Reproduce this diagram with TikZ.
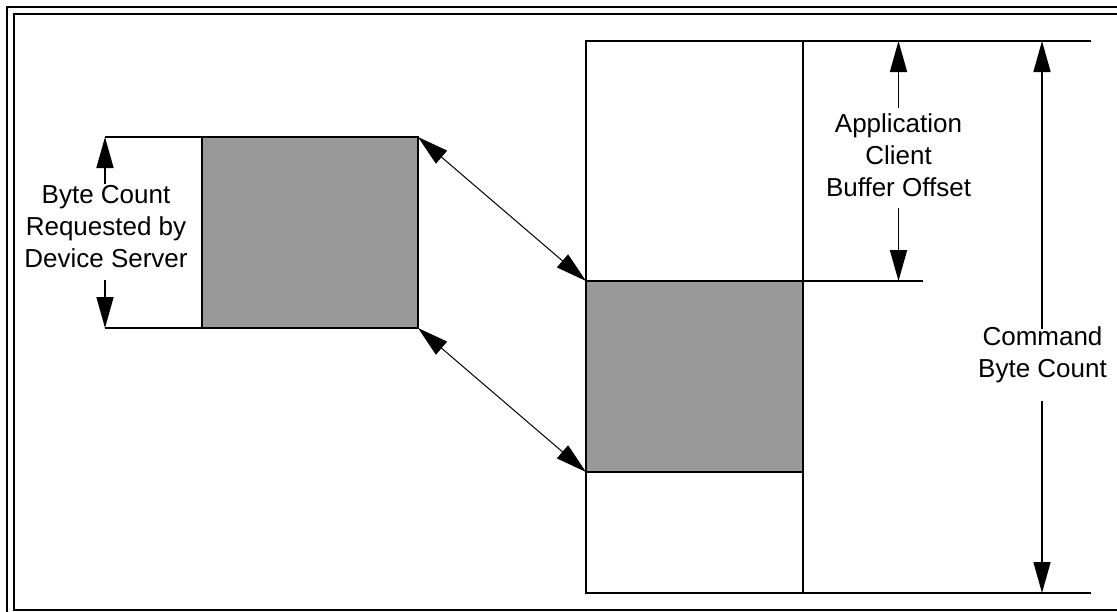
\documentclass[tikz,border=0pt]{standalone}
\usepackage{fontspec}
\setmainfont{Liberation Sans}
\usetikzlibrary{arrows.meta}
\definecolor{boxgray}{HTML}{999999}
\begin{document}
\begin{tikzpicture}[x=1pt,y=-1pt,line width=1.6pt,
  frameline/.style={line width=2.2pt},
  grayfill/.style={fill=boxgray,draw=black,line width=1.6pt},
  dimarrow/.style={-{Triangle[length=31pt,width=17pt]},line width=1.6pt},
  linkarrow/.style={{Triangle[length=31pt,width=17pt]}-{Triangle[length=31pt,width=17pt]},line width=1pt},
  lbl/.style={font=\fontsize{26}{32}\selectfont,align=center,inner sep=0pt}]
\useasboundingbox (0,0) rectangle (1117,611);
\clip (0,0) rectangle (1117,611);
% frame
\draw[frameline] (7,7) rectangle (1140,630);
\draw[frameline] (14,14) rectangle (1130,610);
% left block
\coordinate (Ltl) at (105,137);
\coordinate (Lbl) at (105,328);
\coordinate (Gtl) at (202,137);
\coordinate (Gbr) at (418,328);
\coordinate (Gtr) at (418,137);
\coordinate (Gbrc) at (418,328);
\draw[grayfill] (Gtl) rectangle (Gbr);
\draw (Ltl) -- (Gtl);
\draw (Lbl) -- (Gtl |- Lbl);
\node[lbl] (bcr) at (106,227) {Byte Count\\Requested by\\Device Server};
\coordinate (la1) at (105,184);
\coordinate (la2) at (105,280);
\draw[dimarrow] (la1) -- (Ltl);
\draw[dimarrow] (la2) -- (Lbl);
% right block
\coordinate (Rtl) at (586,41);
\coordinate (Rdiv) at (803,41);
\coordinate (Rtr) at (1091,41);
\coordinate (Rg1) at (586,281);
\coordinate (Rg2) at (803,472);
\coordinate (Rbl) at (586,593);
\coordinate (Rbr) at (1091,593);
\coordinate (Roff) at (923,281);
\fill[boxgray] (Rg1) rectangle (Rg2);
\draw (Rtr) -- (Rtl) -- (Rbl) -- (Rbr);
\draw (Rdiv) -- (Rdiv |- Rbl);
\draw (Rg1) -- (Roff);
\draw (Rg1 |- Rg2) -- (Rg2);
% application client buffer offset
\node[lbl] (acbo) at (898.5,155) {Application\\Client\\Buffer Offset};
\coordinate (aa1) at (898.5,108);
\coordinate (aa2) at (898.5,208);
\coordinate (aaT) at (898.5,41);
\coordinate (aaB) at (898.5,281);
\draw[dimarrow] (aa1) -- (aaT);
\draw[dimarrow] (aa2) -- (aaB);
% command byte count
\node[lbl] (cbc) at (1042.5,354.5) {Command\\Byte Count};
\coordinate (ca1) at (1042,329);
\coordinate (ca2) at (1042,401);
\coordinate (caT) at (1042,41);
\coordinate (caB) at (1042,593);
\draw[dimarrow] (ca1) -- (caT);
\draw[dimarrow] (ca2) -- (caB);
% link arrows
\draw[linkarrow] (Gtr) -- (Rg1);
\draw[linkarrow] (Gbrc) -- (Rg1 |- Rg2);
\end{tikzpicture}
\end{document}
